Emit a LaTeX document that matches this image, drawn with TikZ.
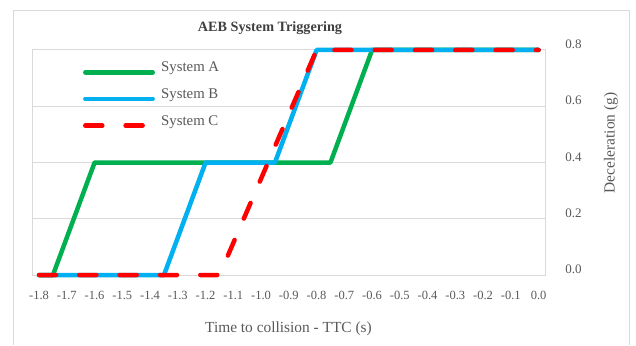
\documentclass[tikz,border=0pt]{standalone}
\usepackage{fontspec}
\setmainfont{Liberation Serif}
\definecolor{gridgray}{HTML}{D9D9D9}
\definecolor{txtgray}{HTML}{595959}
\definecolor{titlegray}{HTML}{404040}
\definecolor{sysA}{HTML}{00B050}
\definecolor{sysB}{HTML}{00B0F0}
\definecolor{sysC}{HTML}{FF0000}
\tikzset{
  frameline/.style={draw=gridgray, line width=1pt},
  gridline/.style={draw=gridgray, line width=1pt},
  series/.style={line width=4.5pt, line cap=round, line join=round},
  seriesA/.style={series, draw=sysA},
  seriesB/.style={series, draw=sysB},
  seriesC/.style={series, draw=sysC, dash pattern=on 17pt off 23.3pt},
  lbl/.style={text=txtgray, inner sep=0pt},
  xtick/.style={lbl, anchor=base, font=\fontsize{12.5}{14}\selectfont},
  ytick/.style={lbl, anchor=base, font=\fontsize{13}{15}\selectfont},
  legtext/.style={lbl, anchor=base west, font=\fontsize{14.8}{17}\selectfont},
  axtitle/.style={lbl, font=\fontsize{15.4}{18}\selectfont},
}
\begin{document}
\begin{tikzpicture}[x=1pt,y=-1pt]
\useasboundingbox (0,0) rectangle (636,345);
\fill[white] (0,0) rectangle (636,345);

% chart frame (open at the bottom)
\draw[frameline] (13,345) -- (13,11) -- (629,11) -- (629,345);

% plot area and horizontal grid
\draw[gridline] (32,50) rectangle (545,275);
\foreach \gy in {106.25,162.5,218.75}
  \draw[gridline] (32,\gy) -- (545,\gy);

% title
\node[anchor=base, inner sep=0pt, text=titlegray, font=\fontsize{14.2}{17}\selectfont\bfseries]
  (title) at (270,32) {AEB System Triggering};

% x tick labels
\foreach \lab [count=\i from 0] in {-1.8,-1.7,-1.6,-1.5,-1.4,-1.3,-1.2,-1.1,-1.0,-0.9,-0.8,-0.7,-0.6,-0.5,-0.4,-0.3,-0.2,-0.1,0.0}
  \node[xtick] (xt\i) at ({39+27.755*\i},299.5) {\lab};

% y tick labels
\foreach \lab [count=\i from 0] in {0.0,0.2,0.4,0.6,0.8}
  \node[ytick] (yt\i) at (573.5,{273.5-56.25*\i}) {\lab};

% axis titles
\node[axtitle, anchor=base] (xtitle) at (288.5,332) {Time to collision - TTC (s)};
\node[axtitle, rotate=90] (ytitle) at (611,143) {Deceleration (g)};

% data series (time in s, deceleration in g)
\begin{scope}[shift={(538.6,275)}, x=277.5pt, y=281.25pt]
  \draw[seriesA] (-1.8,0) -- (-1.75,0) -- (-1.6,0.4) -- (-0.75,0.4) -- (-0.6,0.8) -- (0,0.8);
  \draw[seriesB] (-1.8,0) -- (-1.35,0) -- (-1.2,0.4) -- (-0.95,0.4) -- (-0.8,0.8) -- (0,0.8);
  \draw[seriesC] (-1.8,0) -- (-1.15,0) -- (-0.8,0.8) -- (0,0.8);
\end{scope}

% legend
\coordinate (la0) at (85.3,72.3);  \coordinate (la1) at (152.7,72.3);
\coordinate (lb0) at (85.3,98.8);  \coordinate (lb1) at (152.7,98.8);
\coordinate (lc0) at (85.3,125.7); \coordinate (lc1) at (152.7,125.7);
\draw[seriesA] (la0) -- (la1);
\draw[seriesB] (lb0) -- (lb1);
\draw[seriesC] (lc0) -- (lc1);
\node[legtext] (legA) at (161,71.7) {System A};
\node[legtext] (legB) at (161,98.3) {System B};
\node[legtext] (legC) at (161,125) {System C};
\end{tikzpicture}
\end{document}
